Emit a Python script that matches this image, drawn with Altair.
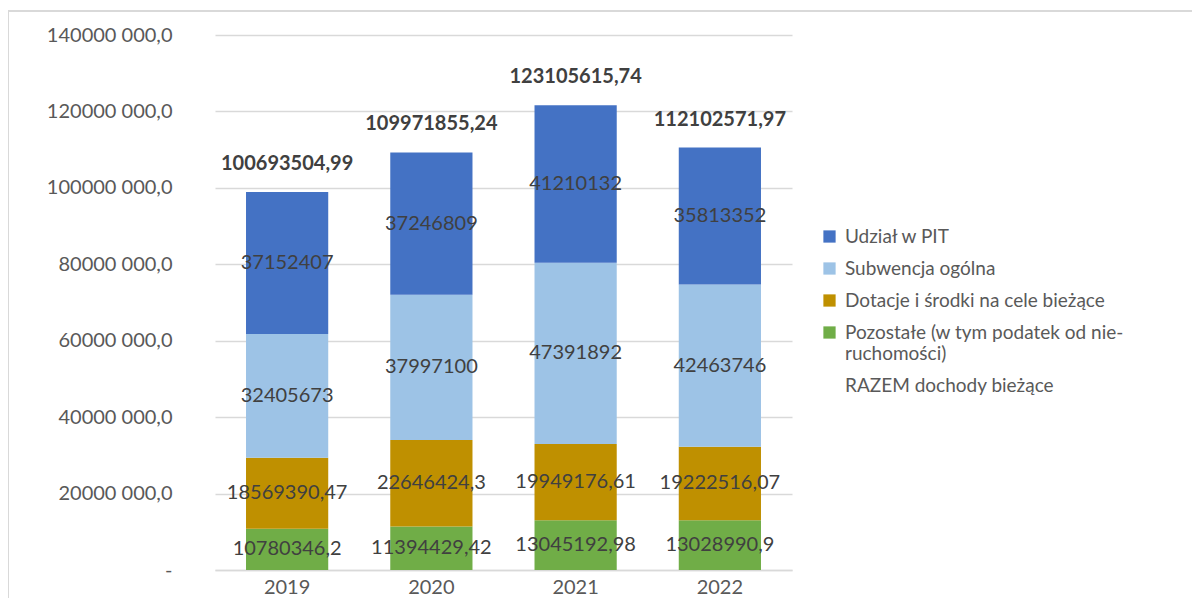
import altair as alt
import pandas as pd

years = ["2019", "2020", "2021", "2022"]
series = ["Udział w PIT", "Subwencja ogólna", "Dotacje i środki na cele bieżące",
          "Pozostałe (w tym podatek od nie-ruchomości)", "RAZEM dochody bieżące"]
colors = ["#4472C4", "#9DC3E6", "#BF9000", "#70AD47", "rgba(255,255,255,0)"]

pit = [37152407, 37246809, 41210132, 35813352]
subwencja = [32405673, 37997100, 47391892, 42463746]
dotacje = [18569390.47, 22646424.3, 19949176.61, 19222516.07]
pozostale = [10780346.2, 11394429.42, 13045192.98, 13028990.9]
totals = ["100693504,99", "109971855,24", "123105615,74", "112102571,97"]

def fmt(v):
    return str(v).replace(".", ",")

rows = []
for i, y in enumerate(years):
    for order, (name, vals) in enumerate([
        (series[3], pozostale), (series[2], dotacje),
        (series[1], subwencja), (series[0], pit)]):
        rows.append({"year": y, "series": name, "value": vals[i],
                     "order": order, "label": fmt(vals[i])})
df = pd.DataFrame(rows)

tot_df = pd.DataFrame({
    "year": years,
    "stacktop": [pozostale[i] + dotacje[i] + subwencja[i] + pit[i] for i in range(4)],
    "label": totals,
})

FONT = "Lato"
FS = 20

x_enc = alt.X("year:N", title=None,
              scale=alt.Scale(paddingInner=0.43, paddingOuter=0.215),
              axis=alt.Axis(labelAngle=0, labelFontSize=FS, labelColor="#595959",
                            labelFont=FONT, ticks=False, domainColor="#d9d9d9",
                            domainWidth=1.5, labelPadding=7, grid=False))

y_scale = alt.Scale(domain=[0, 140000000], nice=False)

bars = alt.Chart(df).mark_bar().encode(
    x=x_enc,
    y=alt.Y("value:Q", stack="zero", scale=y_scale, title=None,
            axis=alt.Axis(values=[0, 20000000, 40000000, 60000000, 80000000,
                                  100000000, 120000000, 140000000],
                          labelExpr="datum.value == 0 ? '-' : format(datum.value/1000, 'd') + ' 000,0'",
                          labelFontSize=FS, labelColor="#595959", labelFont=FONT,
                          ticks=False, domain=False, gridColor="#d9d9d9",
                          gridWidth=1.5, labelPadding=43)),
    color=alt.Color("series:N",
                    scale=alt.Scale(domain=series, range=colors),
                    legend=alt.Legend(title=None, orient="none", legendX=605, legendY=192,
                                      symbolType="square", symbolSize=150,
                                      symbolStrokeWidth=0,
                                      labelFontSize=19, labelColor="#595959",
                                      labelFont=FONT, rowPadding=12, labelLimit=400,
                                      labelOffset=6,
                                      labelExpr="datum.label == 'Pozostałe (w tym podatek od nie-ruchomości)' ? ['Pozostałe (w tym podatek od nie-', 'ruchomości)'] : datum.label")),
    order=alt.Order("order:Q", sort="ascending"),
)

seg_text = alt.Chart(df).transform_window(
    cum="sum(value)", groupby=["year"], sort=[alt.SortField("order")], frame=[None, 0]
).transform_calculate(
    mid="datum.cum - datum.value / 2"
).mark_text(fontSize=FS, color="#404040", font=FONT).encode(
    x=alt.X("year:N"),
    y=alt.Y("mid:Q", scale=y_scale),
    text="label:N",
)

tot_text = alt.Chart(tot_df).mark_text(fontSize=FS, fontWeight="bold", color="#404040",
                                        font=FONT, dy=-28).encode(
    x=alt.X("year:N"),
    y=alt.Y("stacktop:Q", scale=y_scale),
    text="label:N",
)

frame_top = alt.Chart(tot_df).mark_rule(color="#d9d9d9", strokeWidth=1.5).encode(
    x=alt.value(-207), x2=alt.value(990), y=alt.value(-24))
frame_left = alt.Chart(tot_df).mark_rule(color="#d9d9d9", strokeWidth=1.5).encode(
    x=alt.value(-207), y=alt.value(-24), y2=alt.value(600))

chart = alt.layer(frame_top, frame_left, bars, seg_text, tot_text).properties(
    width=577, height=535,
    autosize=alt.AutoSizeParams(type="none"),
    padding={"left": 207, "top": 27, "right": 400, "bottom": 28},
).configure(font=FONT).configure_view(strokeWidth=0, stroke="transparent")

chart.save("out.html", embed_options={"renderer": "svg", "actions": False})
